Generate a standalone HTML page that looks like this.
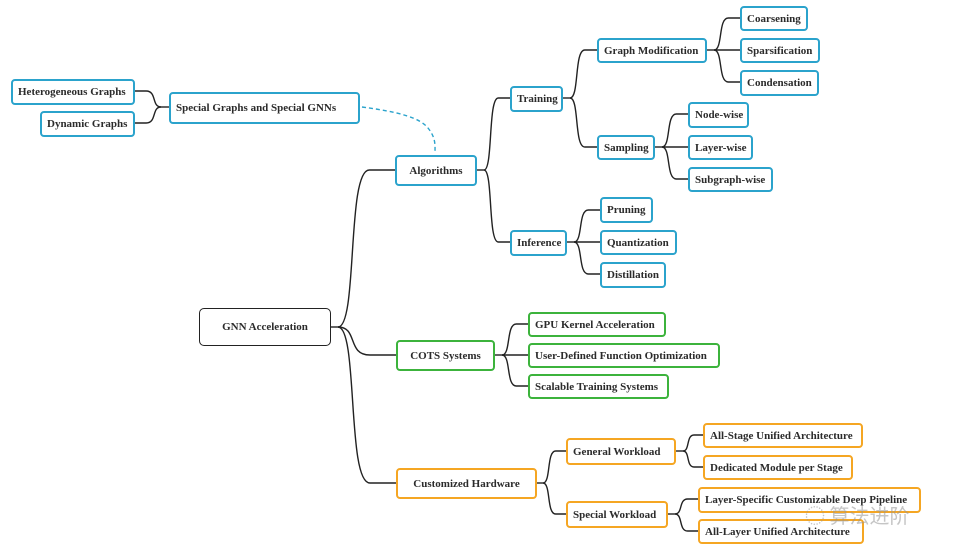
<!DOCTYPE html>
<html><head><meta charset="utf-8"><style>
body{margin:0;width:954px;height:555px;background:#fff;position:relative;overflow:hidden;font-family:"Liberation Serif",serif;}
.n{position:absolute;box-sizing:border-box;border:2px solid #2ba3cc;border-radius:4px;font-weight:bold;font-size:11px;color:#2b2b2b;display:flex;align-items:center;padding-left:5px;white-space:nowrap;background:#fff}
.c{justify-content:center;padding-left:0}
.g{border-color:#3cb33c}.o{border-color:#f5a623}.k{border-color:#222;border-width:1.5px;border-radius:5px}
svg{position:absolute;left:0;top:0}
.wm{position:absolute;left:805px;top:500px;font-family:"Noto Sans CJK SC",sans-serif;font-size:20px;color:rgba(150,150,150,.55)}
</style></head><body>
<svg id="s" width="954" height="555"></svg>
<div class="n" style="left:11px;top:79px;width:124px;height:26px">Heterogeneous Graphs</div>
<div class="n" style="left:40px;top:111px;width:95px;height:26px">Dynamic Graphs</div>
<div class="n" style="left:169px;top:92px;width:191px;height:32px">Special Graphs and Special GNNs</div>
<div class="n c" style="left:395px;top:155px;width:82px;height:31px">Algorithms</div>
<div class="n" style="left:510px;top:86px;width:53px;height:26px">Training</div>
<div class="n" style="left:597px;top:38px;width:110px;height:25px">Graph Modification</div>
<div class="n" style="left:740px;top:6px;width:68px;height:25px">Coarsening</div>
<div class="n" style="left:740px;top:38px;width:80px;height:25px">Sparsification</div>
<div class="n" style="left:740px;top:70px;width:79px;height:26px">Condensation</div>
<div class="n" style="left:597px;top:135px;width:58px;height:25px">Sampling</div>
<div class="n" style="left:688px;top:102px;width:61px;height:26px">Node-wise</div>
<div class="n" style="left:688px;top:135px;width:65px;height:25px">Layer-wise</div>
<div class="n" style="left:688px;top:167px;width:85px;height:25px">Subgraph-wise</div>
<div class="n" style="left:510px;top:230px;width:57px;height:26px">Inference</div>
<div class="n" style="left:600px;top:197px;width:53px;height:26px">Pruning</div>
<div class="n" style="left:600px;top:230px;width:77px;height:25px">Quantization</div>
<div class="n" style="left:600px;top:262px;width:66px;height:26px">Distillation</div>
<div class="n c k" style="left:199px;top:308px;width:132px;height:38px">GNN Acceleration</div>
<div class="n g c" style="left:396px;top:340px;width:99px;height:31px">COTS Systems</div>
<div class="n g" style="left:528px;top:312px;width:138px;height:25px">GPU Kernel Acceleration</div>
<div class="n g" style="left:528px;top:343px;width:192px;height:25px">User-Defined Function Optimization</div>
<div class="n g" style="left:528px;top:374px;width:141px;height:25px">Scalable Training Systems</div>
<div class="n o c" style="left:396px;top:468px;width:141px;height:31px">Customized Hardware</div>
<div class="n o" style="left:566px;top:438px;width:110px;height:27px">General Workload</div>
<div class="n o" style="left:703px;top:423px;width:160px;height:25px">All-Stage Unified Architecture</div>
<div class="n o" style="left:703px;top:455px;width:150px;height:25px">Dedicated Module per Stage</div>
<div class="n o" style="left:566px;top:501px;width:102px;height:27px">Special Workload</div>
<div class="n o" style="left:698px;top:487px;width:223px;height:26px">Layer-Specific Customizable Deep Pipeline</div>
<div class="n o" style="left:698px;top:519px;width:166px;height:25px">All-Layer Unified Architecture</div>
<div class="wm">◌ 算法进阶</div>
<script>
var E=[[330,327,338,[[395,170],[396,355],[396,483]]],[476,170,484,[[510,98],[510,242]]],[562,98,570,[[597,50],[597,147]]],[706,50,714,[[740,18],[740,50],[740,82]]],[654,147,662,[[688,114],[688,147],[688,179]]],[566,242,574,[[600,210],[600,242],[600,274]]],[494,355,502,[[528,324],[528,355],[528,386]]],[536,483,543,[[566,451],[566,514]]],[675,451,683,[[703,435],[703,467]]],[667,514,675,[[698,499],[698,531]]],[169,107,161,[[134,91],[134,123]]]];
var h='';E.forEach(function(e){var px=e[0],py=e[1],bx=e[2];h+='<path d="M'+px+' '+py+'H'+bx+'"/>';e[3].forEach(function(c){var d=c[0]-bx;h+='<path d="M'+bx+' '+py+'C'+(bx+.35*d)+' '+py+' '+(bx+.15*d)+' '+c[1]+' '+(bx+.55*d)+' '+c[1]+'L'+c[0]+' '+c[1]+'"/>';});});
document.getElementById('s').innerHTML='<g fill="none" stroke="#222" stroke-width="1.4">'+h+'</g><path d="M362 107C400 112 420 118 428 128S435 145 435 153" fill="none" stroke="#2ba3cc" stroke-width="1.4" stroke-dasharray="4 3"/>';
</script>
</body></html>
